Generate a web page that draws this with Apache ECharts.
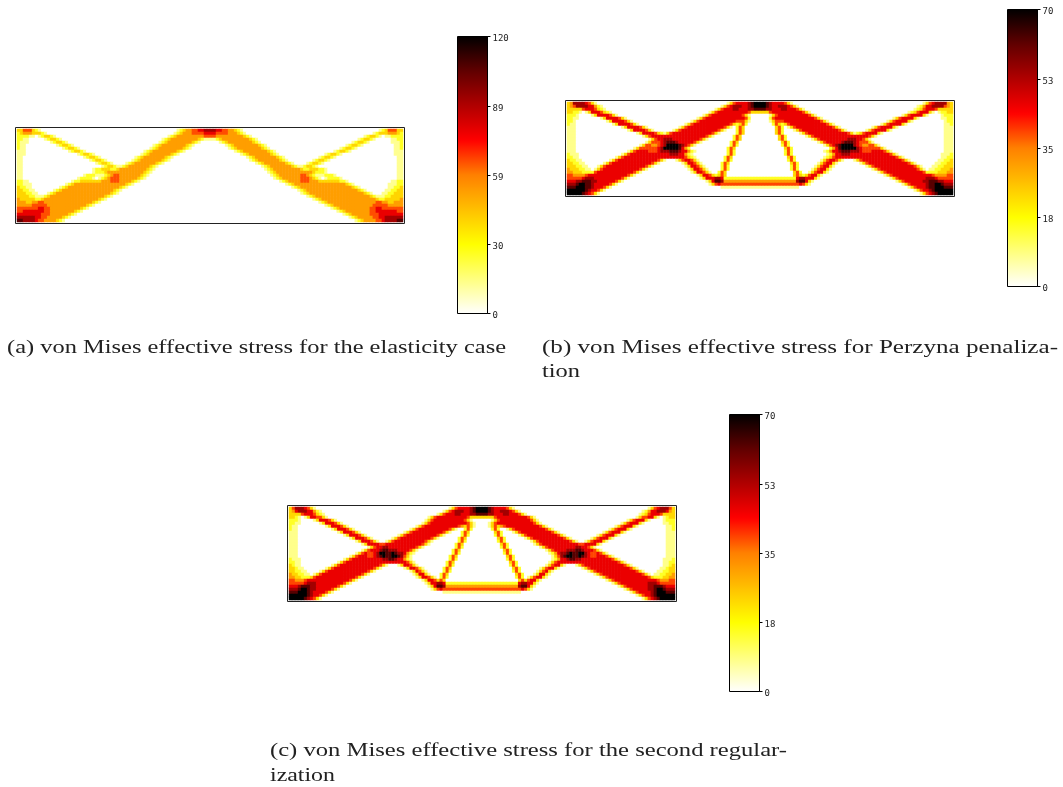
<!DOCTYPE html>
<html><head><meta charset="utf-8">
<style>html,body{margin:0;padding:0;background:#fff}#main{width:1063px;height:787px}</style>
<script src="https://cdn.jsdelivr.net/npm/echarts@6/dist/echarts.min.js"></script>
</head><body><div id="main"></div>
<script>
// Stress, one run-length row per line of the mesh ("level+count").
// Rows hold the left half of the beam; the pictured fields are mirror-symmetric about mid-span.
const rowsA = [
"32 53 31 21 11 045 11 21 31 42 52 62 72",
"21 31 43 33 21 11 042 11 21 31 43 54 62",
"24 12 01 11 21 32 21 11 037 11 21 31 49 52",
"22 12 05 11 21 32 21 11 033 11 21 31 49 31 21 12",
"21 13 07 11 21 32 21 11 030 11 21 31 48 31 21 11 03",
"21 12 010 11 21 32 21 11 026 11 21 31 48 31 21 11 05",
"21 12 012 11 21 32 21 11 023 11 21 31 48 31 21 11 06",
"13 014 11 21 32 21 11 019 11 21 31 48 31 21 11 08",
"13 017 11 21 32 21 11 015 11 21 31 47 31 21 11 010",
"12 020 11 21 32 21 11 011 11 21 31 47 31 21 11 012",
"12 022 11 21 32 21 11 08 11 21 31 47 31 21 11 013",
"12 024 11 21 32 21 11 04 11 21 31 47 31 21 11 015",
"12 026 11 21 32 21 12 21 31 47 31 21 11 017",
"12 023 11 22 33 22 31 49 31 21 11 018",
"12 023 11 23 31 412 31 21 11 019",
"12 020 11 23 13 21 31 41 52 47 31 21 11 020",
"12 018 11 24 11 01 11 21 31 41 53 46 31 21 11 021",
"22 12 014 11 22 37 43 53 44 31 21 11 023",
"22 13 011 11 21 31 417 31 21 11 025",
"31 22 12 09 11 21 31 417 31 21 11 027",
"32 22 12 06 11 21 31 417 31 21 11 029",
"33 22 12 03 11 21 31 418 31 21 11 030",
"34 22 13 21 31 418 31 21 11 032",
"41 35 22 31 418 31 21 11 034",
"43 32 42 52 416 31 21 11 036",
"45 55 413 31 21 11 038",
"53 54 62 52 410 31 21 11 040",
"52 67 52 48 31 21 11 042",
"68 53 46 31 21 11 044",
"76 62 52 45 31 21 11 046",
"82 74 61 52 44 31 21 11 048"
];
const rowsB = [
"31 41 74 61 51 31 11 043 11 31 51 64 71 81 92",
"31 41 51 74 62 41 21 11 039 11 31 51 61 73 62 71 81 92",
"35 51 63 51 31 21 11 036 11 31 51 63 72 63 72 82",
"32 22 11 01 11 31 63 51 31 21 11 032 11 31 51 69 61 51 33",
"23 11 04 11 31 64 51 31 11 028 11 31 51 610 51 31 11 03",
"22 12 07 11 31 64 51 31 11 023 11 31 51 613 51 21 03",
"22 11 010 11 31 64 51 31 11 019 11 31 51 612 52 51 31 11 03",
"21 12 012 11 31 64 51 31 11 015 11 31 51 612 51 31 21 31 51 21 04",
"13 015 11 31 64 51 31 11 010 11 31 51 612 51 31 11 01 21 51 31 05",
"13 017 11 31 64 51 31 11 06 11 31 51 612 51 31 11 03 21 51 31 05",
"13 020 11 31 64 51 31 21 11 31 51 613 51 31 11 05 21 51 31 05",
"13 022 11 31 51 618 51 31 11 06 21 51 31 06",
"13 024 11 31 51 62 73 69 51 31 11 08 21 51 31 06",
"13 023 11 31 51 52 61 71 83 71 65 51 31 11 09 21 51 31 07",
"13 021 11 31 51 51 42 51 61 71 94 81 71 61 51 31 11 011 21 51 21 07",
"13 019 11 31 51 55 61 71 95 81 61 41 21 012 21 51 31 08",
"13 017 11 31 51 64 53 61 73 83 71 62 41 21 11 010 21 51 21 08",
"21 13 014 11 31 51 613 73 62 41 21 11 011 21 51 21 08",
"22 12 012 11 31 51 620 51 31 21 11 09 21 51 31 09",
"31 22 12 09 11 31 51 613 51 31 11 03 11 31 51 62 51 31 11 08 21 51 21 09",
"32 22 12 06 11 31 51 613 51 31 11 07 11 31 62 51 31 11 06 21 51 31 010",
"33 22 12 03 11 31 51 613 51 31 11 010 11 31 62 51 31 11 05 21 51 21 010",
"41 33 22 12 01 11 31 51 612 51 31 11 013 11 31 62 51 31 11 04 21 51 21 010",
"42 33 24 51 612 51 31 11 016 11 31 62 51 31 11 02 21 51 31 011",
"52 44 51 613 51 31 11 020 11 31 62 51 31 21 31 51 31 011",
"55 61 73 69 51 31 11 023 11 31 63 72 61 212",
"63 72 83 72 66 51 31 11 027 11 31 61 82 71 412",
"73 81 92 82 71 65 51 31 11 030 11 31 51 61 51 512",
"83 93 82 71 63 51 31 11 036 113",
"96 81 71 62 51 31 11 051",
"95 81 71 61 51 31 11 053"
];
const rowsC = [
"31 51 73 61 51 31 11 044 11 31 51 64 71 81 92",
"31 41 61 73 62 41 21 11 040 11 31 51 61 73 62 71 81 92",
"34 51 63 51 31 21 11 037 11 31 51 63 72 63 72 82",
"32 21 11 01 11 31 62 51 51 31 11 033 11 31 51 610 51 33",
"23 11 04 11 31 63 51 31 11 029 11 31 51 610 51 31 11 03",
"22 12 06 11 31 63 51 31 11 026 11 31 51 612 51 31 11 02",
"21 12 09 11 31 63 51 31 11 022 11 31 51 611 51 41 31 51 31 11 02",
"21 12 011 11 31 63 51 31 11 018 11 31 51 610 51 31 11 02 21 51 21 03",
"13 013 11 31 63 51 31 11 014 11 31 51 610 51 31 11 03 21 51 31 04",
"13 015 11 31 63 51 31 11 010 11 31 51 610 51 31 11 05 21 51 21 04",
"13 017 11 31 63 51 31 11 06 11 31 51 610 51 31 11 06 21 51 31 05",
"13 019 11 31 63 51 31 11 02 11 31 51 610 51 31 11 08 21 51 21 05",
"13 021 11 31 64 52 612 51 31 11 08 21 51 31 06",
"13 023 11 31 51 62 72 69 51 31 11 010 21 51 21 06",
"13 021 11 31 51 63 71 82 73 64 51 31 11 011 21 51 31 07",
"13 019 11 31 51 61 52 61 71 92 82 91 81 72 61 41 21 11 012 21 51 21 07",
"13 017 11 31 51 63 52 61 71 81 91 82 92 81 71 51 31 11 012 21 51 31 08",
"21 13 014 11 31 51 610 72 82 71 62 41 21 11 012 21 51 21 08",
"22 12 012 11 31 51 620 51 31 11 010 21 51 31 09",
"31 21 12 010 11 31 51 613 51 31 11 03 11 31 62 51 31 11 09 21 51 21 09",
"32 21 12 07 11 31 51 613 51 31 11 07 11 31 62 51 31 11 06 21 51 31 010",
"32 22 12 04 11 31 51 613 51 31 11 011 11 31 61 51 31 11 05 21 51 21 010",
"41 32 22 12 01 11 31 51 613 51 31 11 014 11 31 62 31 11 03 21 51 31 011",
"42 32 23 31 51 613 51 31 11 017 11 31 62 51 31 11 01 21 51 21 011",
"52 43 51 614 51 31 11 021 11 31 62 51 31 51 31 012",
"55 61 73 69 51 31 11 024 11 31 62 72 61 212",
"63 71 83 72 67 51 31 11 027 11 31 61 82 71 412",
"73 81 92 81 72 65 51 31 11 030 11 31 51 61 51 512",
"83 93 81 71 64 51 31 11 036 113",
"96 81 71 62 51 31 11 051",
"95 81 71 61 51 31 11 053"
];
const levelsA = [0,13,26,40,53,66,79,92,106,120];
const levelsBC = [0,8,15,23,31,39,46,54,62,70];
const ticksA = ['0','30','59','89','120'];
const ticksBC = ['0','18','35','53','70'];
const captionA = ['(a) von Mises effective stress for the elasticity case'];
const captionB = ['(b) von Mises effective stress for Perzyna penaliza-','tion'];
const captionC = ['(c) von Mises effective stress for the second regular-','ization'];

const HALF = 64;
function decode(rows, levels){
  const out = [];
  rows.forEach((row, r) => {
    let s = '';
    row.split(' ').forEach(t => { s += t[0].repeat(+t.slice(1)); });
    s = s.slice(0, HALF).padEnd(HALF, s[s.length-1]);
    const full = s + s.split('').reverse().join('');
    for (let c = 0; c < full.length; c++) out.push([c, r, levels[+full[c]]]);
  });
  return out;
}
const hot = ['#ffffff','#ffff80','#ffff00','#ffc000','#ff8000','#ff0000','#b00000','#600000','#000000'];
const cols = Array.from({length:HALF*2},(_,i)=>i), nrows = Array.from({length:31},(_,i)=>i);

const panels = [
 {left:15, top:127, rows:rowsA, levels:levelsA, ticks:ticksA, max:120},
 {left:565,top:100, rows:rowsB, levels:levelsBC, ticks:ticksBC, max:70},
 {left:287,top:505, rows:rowsC, levels:levelsBC, ticks:ticksBC, max:70}
];
const grid=[], xAxis=[], yAxis=[], series=[], visualMap=[];
panels.forEach((p,i)=>{
  let g = grid.length;
  grid.push({left:p.left+2, top:p.top+2, width:386, height:93, show:false});
  xAxis.push({gridIndex:g, type:'category', data:cols, show:false});
  yAxis.push({gridIndex:g, type:'category', data:nrows, inverse:true, show:false});
  series.push({type:'heatmap', xAxisIndex:g, yAxisIndex:g, data:decode(p.rows,p.levels), progressive:0, animation:false, emphasis:{disabled:true}});
  visualMap.push({type:'continuous', seriesIndex:series.length-1, dimension:2, min:0, max:p.max, calculable:false, hoverLink:false,
    left:p.left+442, top:p.top-91, itemWidth:31, itemHeight:278, padding:0, text:null, showLabel:false, inRange:{color:hot}});
  g = grid.length;
  grid.push({left:p.left+.5, top:p.top+.5, width:389, height:96, show:true, borderColor:'#222', borderWidth:1, backgroundColor:'transparent', z:5});
  xAxis.push({gridIndex:g, type:'value', min:0, max:1, show:false});
  yAxis.push({gridIndex:g, type:'value', min:0, max:1, show:false});
  g = grid.length;
  grid.push({left:p.left+442.5, top:p.top-90.5, width:30, height:277, show:true, borderColor:'#000', borderWidth:1, backgroundColor:'transparent', z:6});
  xAxis.push({gridIndex:g, type:'value', min:0, max:1, show:false});
  yAxis.push({gridIndex:g, type:'category', data:p.ticks, boundaryGap:false, position:'right',
    axisLine:{show:true, onZero:false, lineStyle:{color:'#000'}}, splitLine:{show:false},
    axisTick:{show:true, interval:0, inside:false, length:3, lineStyle:{color:'#000', width:1}},
    axisLabel:{show:true, interval:0, margin:5, verticalAlign:'top', lineHeight:5, color:'#222', fontFamily:'DejaVu Sans Mono', fontSize:9}});
});

// Captions: real text, fitted horizontally to the width of the Computer Modern original.
const CAP_FONT = '18px "Liberation Serif"';
const mctx = document.createElement('canvas').getContext('2d');
mctx.font = CAP_FONT;
function cap(text, x, y, w){
  return {type:'text', x, y, scaleX: w/mctx.measureText(text).width,
    style:{text, font:CAP_FONT, fill:'#222', textVerticalAlign:'middle', textAlign:'left'}};
}
const graphic = [
  cap(captionA[0], 7, 348, 499),
  cap(captionB[0], 542, 348, 516),
  cap(captionB[1], 542, 372, 38),
  cap(captionC[0], 270, 751, 517),
  cap(captionC[1], 270, 776, 65)
];
const chart = echarts.init(document.getElementById('main'), null, {renderer:'canvas'});
chart.setOption({animation:false, grid, xAxis, yAxis, series, visualMap, graphic, tooltip:{show:false}});
</script></body></html>
